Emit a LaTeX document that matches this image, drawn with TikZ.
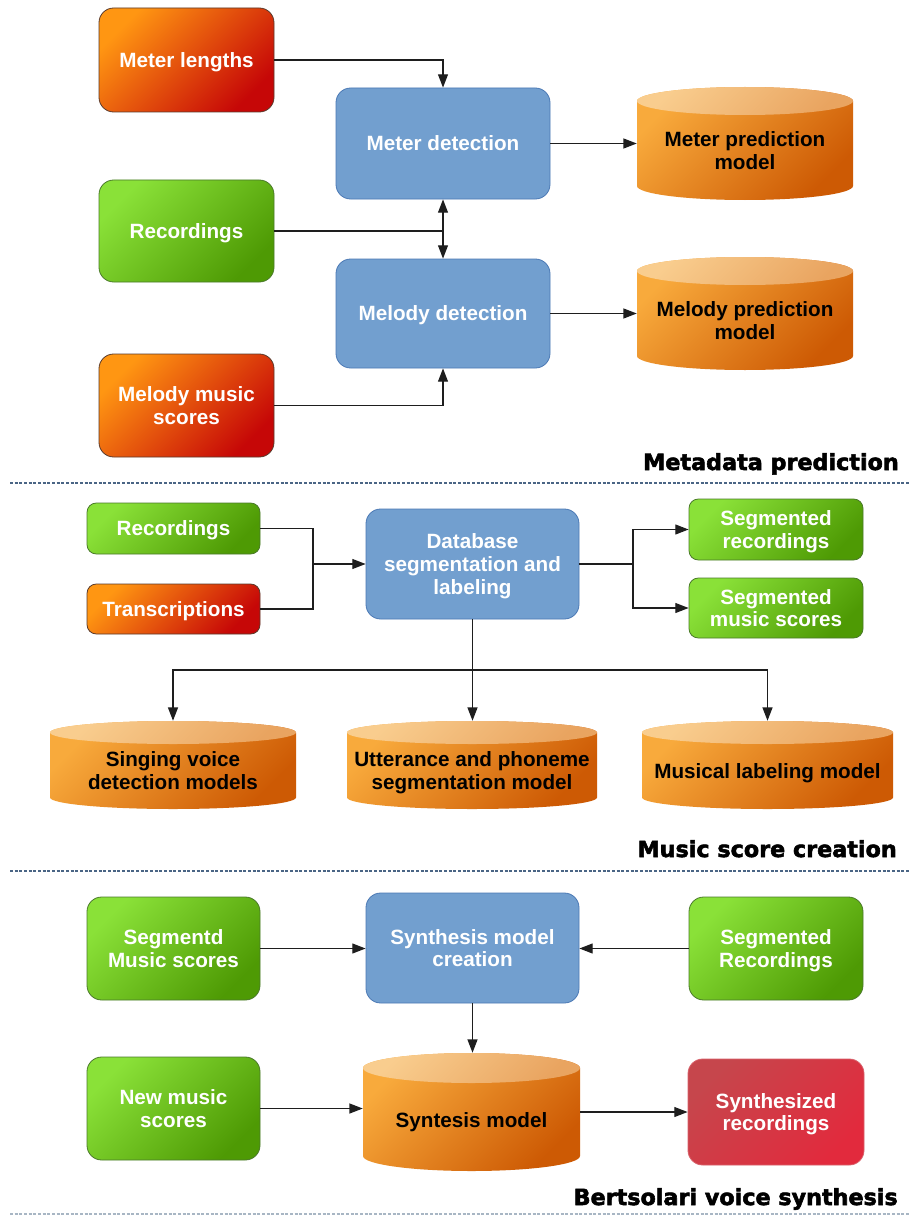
\documentclass[tikz,border=0pt]{standalone}
\usepackage{fontspec}
\setmainfont{Liberation Sans}
\newfontfamily\secfont{DejaVu Sans}[BoldFeatures={FakeBold=2.5}]
\usetikzlibrary{arrows.meta,calc}

\definecolor{redA}{HTML}{FF9612}
\definecolor{redB}{HTML}{C60707}
\definecolor{redline}{HTML}{5A3A2C}
\definecolor{greenA}{HTML}{8AE138}
\definecolor{greenB}{HTML}{4E9A04}
\definecolor{greenline}{HTML}{4A7A2A}
\definecolor{blueA}{HTML}{729FCF}
\definecolor{blueline}{HTML}{4B79B5}
\definecolor{alertA}{HTML}{C6464C}
\definecolor{alertB}{HTML}{E22A3D}
\definecolor{alertline}{HTML}{D8606A}
\definecolor{drumA}{HTML}{F8AA3C}
\definecolor{drumB}{HTML}{CD5A04}
\definecolor{capA}{HTML}{F9CD8E}
\definecolor{capB}{HTML}{E9A460}
\definecolor{linec}{HTML}{1E1E1E}
\definecolor{sepc}{HTML}{4A6585}
\definecolor{sepfaint}{HTML}{A8B6C4}

% database drum: name, x0, y0, x1, y1, cap half-height, label
\newcommand\drum[7]{%
  \pgfmathsetmacro\drx{(#4-#2)/2*0.75}%
  \pgfmathsetmacro\dry{#6*0.75}%
  \pgfmathsetmacro\drcx{(#2+#4)/2}%
  \shade[drumbody] (#2,#3+#6) -- (#2,#5-#6)
    arc[start angle=180,end angle=360,x radius=\drx pt,y radius=\dry pt]
    -- (#4,#3+#6)
    arc[start angle=0,end angle=180,x radius=\drx pt,y radius=\dry pt] -- cycle;
  \shade[drumtop] (\drcx,#3+#6) ellipse[x radius=\drx pt,y radius=\dry pt];
  \node[drumframe, minimum width={(#4-#2)*0.75pt}, minimum height={(#5-#3)*0.75pt}]
    (#1) at (\drcx,{(#3+#5)/2}) {};
  \node[drumlabel] (#1-t) at (\drcx,{(#3+#6+#5)/2}) {#7};
}

\begin{document}
\begin{tikzpicture}[x=0.75pt,y=-0.75pt,
  sz/.style 2 args={minimum width={#1*0.75pt}, minimum height={#2*0.75pt}},
  card/.style={rectangle, rounded corners=11pt, inner sep=2pt, align=center,
    text depth=0pt, text=white, font=\bfseries\fontsize{15.5}{17}\selectfont,
    line width=0.6pt},
  redcard/.style={card, draw=redline, top color=redA, bottom color=redB, shading angle=45},
  greencard/.style={card, draw=greenline, top color=greenA, bottom color=greenB, shading angle=45},
  bluecard/.style={card, draw=blueline, fill=blueA},
  alertcard/.style={card, draw=alertline, top color=alertA, bottom color=alertB, shading angle=45},
  smallcard/.style={rounded corners=7pt},
  link/.style={draw=linec, line width=0.9pt},
  arr/.style={link, -{Triangle[length=10pt,width=7.5pt]}},
  drumbody/.style={top color=drumA, bottom color=drumB, shading angle=45},
  drumtop/.style={top color=capA, bottom color=capB, shading angle=45},
  drumframe/.style={rectangle, inner sep=0pt},
  drumlabel/.style={align=center, text=black, inner sep=0pt, text depth=0pt,
    font=\bfseries\fontsize{15.5}{17}\selectfont},
  sectitle/.style={font=\secfont\bfseries\fontsize{16.7}{19}\selectfont, inner sep=0pt},
  sepline/.style={draw=sepc, line width=0.9pt, dash pattern=on 2.2pt off 1.3pt},
  faintsep/.style={sepline, draw=sepfaint}
]
\fill[white] (0,0) rectangle (915,1220);
\useasboundingbox (0,0) rectangle (915,1220);

% ---------- Metadata prediction ----------
\node[redcard, sz={175}{104}] (ml) at (186.5,60) {Meter lengths};
\node[bluecard, sz={214}{111}] (mdet) at (443,143.5) {Meter detection};
\node[greencard, sz={175}{102}] (rec1) at (186.5,231) {Recordings};
\node[bluecard, sz={214}{109}] (meldet) at (443,313.5) {Melody detection};
\node[redcard, sz={175}{103}] (mms) at (186.5,405.5) {Melody music\\scores};
\drum{mpm}{637}{87}{853}{200}{14}{Meter prediction\\model}
\drum{melpm}{637}{257}{853}{370}{14}{Melody prediction\\model}

\draw[arr] (ml.east) -| (mdet.north);
\coordinate (j1) at (mdet.south |- rec1.east);
\draw[link] (rec1.east) -- (j1);
\draw[arr] (j1) -- (mdet.south);
\draw[arr] (j1) -- (meldet.north);
\draw[arr] (mms.east) -| (meldet.south);
\draw[arr] (mdet.east) -- (mdet.east -| mpm.west);
\draw[arr] (meldet.east) -- (meldet.east -| melpm.west);

\node[sectitle, anchor=base east] (t1) at (899,470) {Metadata prediction};
\coordinate (s1a) at (10,483);
\coordinate (s1b) at (910,483);
\draw[sepline] (s1a) -- (s1b);

% ---------- Music score creation ----------
\node[greencard, smallcard, sz={173}{51}] (rec2) at (173.5,528.5) {Recordings};
\node[redcard, smallcard, sz={173}{50}] (trans) at (173.5,609) {Transcriptions};
\node[bluecard, sz={213}{110}] (dbseg) at (472.5,564) {Database\\segmentation and\\labeling};
\node[greencard, smallcard, sz={174}{61}] (segrec) at (776,529.5) {Segmented\\recordings};
\node[greencard, smallcard, sz={174}{60}] (segms) at (776,608) {Segmented\\music scores};
\drum{svd}{50}{721}{296}{809}{11.5}{Singing voice\\detection models}
\drum{upm}{347}{721}{597}{809}{11.5}{Utterance and phoneme\\segmentation model}
\drum{mlm}{642}{721}{893}{809}{11.5}{Musical labeling model}

\coordinate (j2) at (313,564);
\draw[link] (rec2.east) -| (j2);
\draw[link] (trans.east) -| (j2);
\draw[arr] (j2) -- (dbseg.west);
\coordinate (j3) at (633,564);
\draw[link] (dbseg.east) -- (j3);
\draw[arr] (j3) |- (segrec.west);
\draw[arr] (j3) |- (segms.west);
\coordinate (j4) at (472.5,670);
\draw[link] (dbseg.south) -- (j4);
\draw[arr] (j4) -| (svd.north);
\draw[arr] (j4) -| (mlm.north);
\draw[arr] (j4) -- (j4 |- upm.north);

\node[sectitle, anchor=base east] (t2) at (897,857) {Music score creation};
\coordinate (s2a) at (10,871);
\coordinate (s2b) at (910,871);
\draw[sepline] (s2a) -- (s2b);

% ---------- Bertsolari voice synthesis ----------
\node[greencard, sz={173}{103}] (smsc) at (173.5,948.5) {Segmentd\\Music scores};
\node[bluecard, sz={213}{110}] (smc) at (472.5,948) {Synthesis model\\creation};
\node[greencard, sz={174}{103}] (segr2) at (776,948.5) {Segmented\\Recordings};
\node[greencard, sz={173}{103}] (nms) at (173.5,1108.5) {New music\\scores};
\drum{sm}{363}{1053}{580}{1171}{15}{Syntesis model}
\node[alertcard, sz={176}{106}] (synrec) at (776,1112) {Synthesized\\recordings};

\draw[arr] (smsc.east) -- (smc.west |- smsc.east);
\draw[arr] (segr2.west) -- (smc.east |- segr2.west);
\draw[arr] (smc.south) -- (smc.south |- sm.north);
\draw[arr] (nms.east) -- (nms.east -| sm.west);
\draw[arr] (synrec.west -| sm.east) -- (synrec.west);

\node[sectitle, anchor=base east] (t3) at (898,1205) {Bertsolari voice synthesis};
\coordinate (s3a) at (10,1214);
\coordinate (s3b) at (910,1214);
\draw[faintsep] (s3a) -- (s3b);
\end{tikzpicture}
\end{document}
